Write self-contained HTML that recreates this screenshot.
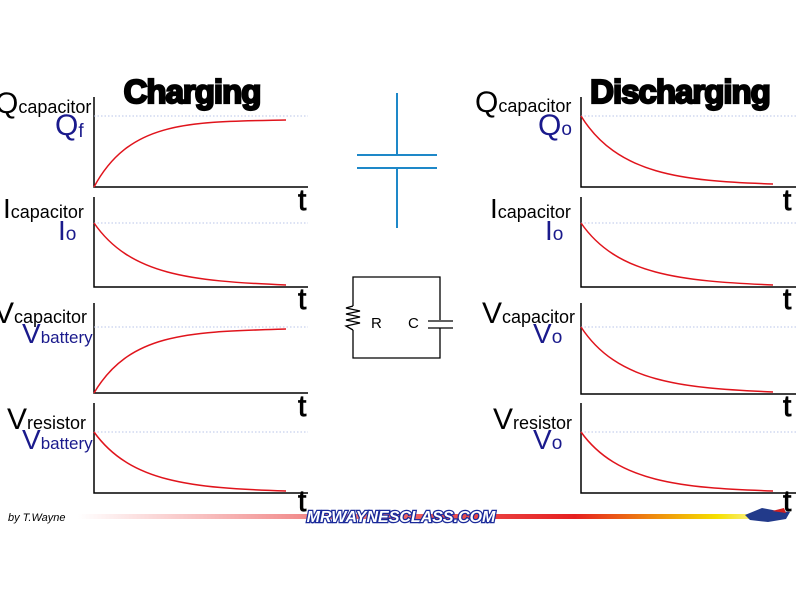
<!DOCTYPE html>
<html><head><meta charset="utf-8"><style>
html,body{margin:0;padding:0;background:#fff;width:800px;height:600px;overflow:hidden}
svg{display:block}
.lb{font-family:"Liberation Sans",sans-serif;fill:#000}
.bl{font-family:"Liberation Sans",sans-serif;fill:#1a1a8c}
.t{font-family:"Liberation Sans",sans-serif;font-size:30px;fill:#000;stroke:#000;stroke-width:0.8}
.ax{stroke:#000;stroke-width:1.5;fill:none}
.dt{stroke:#b8c4e8;stroke-width:1;stroke-dasharray:1.5 2;fill:none}
.cv{stroke:#e0141c;stroke-width:1.5;fill:none}
</style></head><body>
<svg width="800" height="600" viewBox="0 0 800 600">
<defs>
<linearGradient id="g" x1="0" x2="1">
<stop offset="0" stop-color="#fff"/><stop offset="0.35" stop-color="#f08080"/><stop offset="0.7" stop-color="#e62020"/><stop offset="0.9" stop-color="#f5e000"/><stop offset="1" stop-color="#fff"/>
</linearGradient>
</defs>
<text x="192" y="103" text-anchor="middle" font-family="Liberation Sans,sans-serif" font-weight="bold" font-size="33" stroke="#000" stroke-width="2.2" letter-spacing="-1">Charging</text>
<text x="680" y="103" text-anchor="middle" font-family="Liberation Sans,sans-serif" font-weight="bold" font-size="33" stroke="#000" stroke-width="2.2" letter-spacing="-1">Discharging</text>

<g>
<path class="ax" d="M94 97V187H308"/><path class="dt" d="M94 116H308"/>
<path class="cv" d="M94 187C130 120 190 122 286 120"/>
<path class="ax" d="M94 197V287H308"/><path class="dt" d="M94 223H308"/>
<path class="cv" d="M94 223C130 275 190 281 286 285"/>
<path class="ax" d="M94 303V393H308"/><path class="dt" d="M94 327H308"/>
<path class="cv" d="M94 393C130 332 190 332 286 329"/>
<path class="ax" d="M94 403V493H308"/><path class="dt" d="M94 432H308"/>
<path class="cv" d="M94 432C130 482 190 488 286 491"/>
</g>
<g>
<path class="ax" d="M581 97V187H796"/><path class="dt" d="M581 116H796"/>
<path class="cv" d="M581 116C617 174 680 181 773 184"/>
<path class="ax" d="M581 197V287H796"/><path class="dt" d="M581 223H796"/>
<path class="cv" d="M581 223C617 275 680 281 773 285"/>
<path class="ax" d="M581 303V394H796"/><path class="dt" d="M581 327H796"/>
<path class="cv" d="M581 327C617 382 680 388 773 392"/>
<path class="ax" d="M581 403V493H796"/><path class="dt" d="M581 432H796"/>
<path class="cv" d="M581 432C617 482 680 488 773 491"/>
</g>
<text class="t" x="298" y="210">t</text><text class="t" x="298" y="309">t</text>
<text class="t" x="298" y="416">t</text><text class="t" x="298" y="511">t</text>
<text class="t" x="783" y="210">t</text><text class="t" x="783" y="309">t</text>
<text class="t" x="783" y="416">t</text><text class="t" x="783" y="511">t</text>

<text class="lb" x="-5" y="113" font-size="30">Q<tspan font-size="18">capacitor</tspan></text>
<text class="bl" x="55" y="135" font-size="30">Q<tspan font-size="19" dy="2">f</tspan></text>
<text class="lb" x="3" y="218" font-size="28">I<tspan font-size="18">capacitor</tspan></text>
<text class="bl" x="58" y="240" font-size="28">I<tspan font-size="19">o</tspan></text>
<text class="lb" x="-6" y="323" font-size="30">V<tspan font-size="18">capacitor</tspan></text>
<text class="bl" x="22" y="343" font-size="28">V<tspan font-size="17">battery</tspan></text>
<text class="lb" x="7" y="429" font-size="30">V<tspan font-size="18">resistor</tspan></text>
<text class="bl" x="22" y="449" font-size="28">V<tspan font-size="17">battery</tspan></text>

<text class="lb" x="475" y="112" font-size="30">Q<tspan font-size="18">capacitor</tspan></text>
<text class="bl" x="538" y="135" font-size="30">Q<tspan font-size="19">o</tspan></text>
<text class="lb" x="490" y="218" font-size="28">I<tspan font-size="18">capacitor</tspan></text>
<text class="bl" x="545" y="240" font-size="28">I<tspan font-size="19">o</tspan></text>
<text class="lb" x="482" y="323" font-size="30">V<tspan font-size="18">capacitor</tspan></text>
<text class="bl" x="533" y="343" font-size="28">V<tspan font-size="19">o</tspan></text>
<text class="lb" x="493" y="429" font-size="30">V<tspan font-size="18">resistor</tspan></text>
<text class="bl" x="533" y="449" font-size="28">V<tspan font-size="19">o</tspan></text>

<g stroke="#1e88c8" stroke-width="2" fill="none">
<path d="M397 93V155M357 155H437M357 168H437M397 168V228"/>
</g>
<g stroke="#000" stroke-width="1.3" fill="none">
<path d="M353 306V277H440V320M353 330V358H440V328"/>
<path d="M353 306L346 308L360 311L346 314L360 317L346 320L360 323L346 326L353 330"/>
<path d="M428 321H453M428 328H453"/>
</g>
<text x="371" y="328" font-family="Liberation Sans,sans-serif" font-size="15">R</text>
<text x="408" y="328" font-family="Liberation Sans,sans-serif" font-size="15">C</text>

<text x="8" y="521" font-family="Liberation Sans,sans-serif" font-size="11" font-style="italic">by T.Wayne</text>
<rect x="78" y="514" width="710" height="5" fill="url(#g)"/>
<text x="401" y="522" text-anchor="middle" font-family="Liberation Sans,sans-serif" font-weight="bold" font-style="italic" font-size="16" fill="#fff" stroke="#1a2a9a" stroke-width="2.5" paint-order="stroke">MRWAYNESCLASS.COM</text>
<path d="M745 515L762 508L778 511L790 512L786 519L768 522L750 520Z" fill="#223a8a"/>
<path d="M772 511L784 508L786 513Z" fill="#d02020"/>
</svg>
</body></html>
